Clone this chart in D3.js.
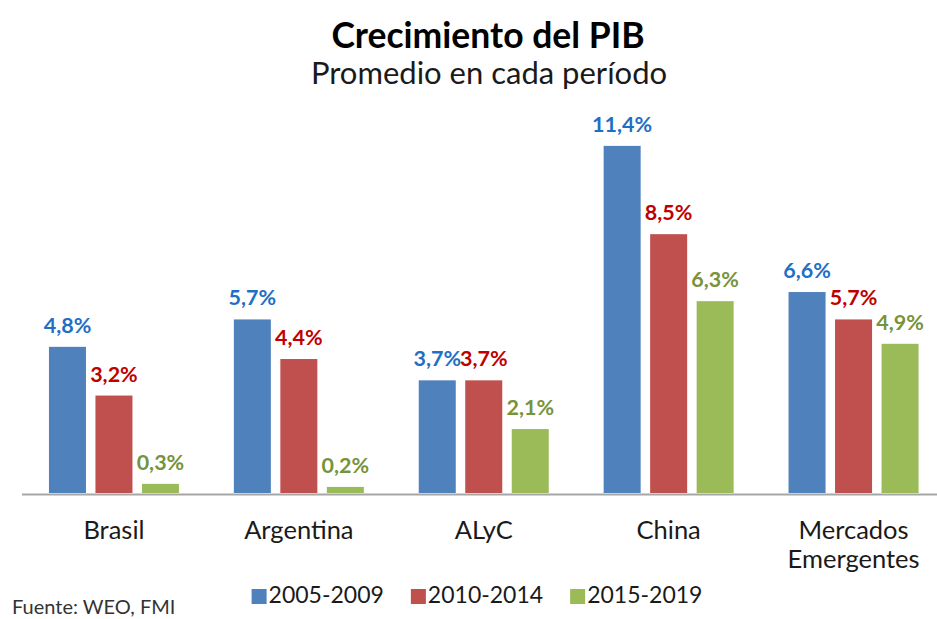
<!DOCTYPE html>
<html>
<head>
<meta charset="utf-8">
<script src="https://cdn.jsdelivr.net/npm/d3@7"></script>
<style>
  html, body { margin: 0; padding: 0; background: #ffffff; }
  svg { display: block; }
  text { font-family: Lato, "Open Sans", sans-serif; }
</style>
</head>
<body>
<svg id="chart" width="937" height="619"></svg>
<script>
// Crecimiento del PIB: promedio anual por período (%)
const categories = ["Brasil", "Argentina", "ALyC", "China", "Mercados Emergentes"];
const periods = ["2005-2009", "2010-2014", "2015-2019"];
const growth2005_2009 = [4.8, 5.7, 3.7, 11.4, 6.6];
const growth2010_2014 = [3.2, 4.4, 3.7, 8.5, 5.7];
const growth2015_2019 = [0.3, 0.2, 2.1, 6.3, 4.9];
const seriesValues = [growth2005_2009, growth2010_2014, growth2015_2019];

const barColors = ["#4F81BD", "#C0504D", "#9BBB59"];
const labelColors = ["#1F6FC5", "#C00000", "#77933C"];
const fmt = v => v.toFixed(1).replace(".", ",") + "%";

const baseY = 493;
const svg = d3.select("#chart");

// Scales
const x0 = d3.scaleBand().domain(categories).range([21.5, 946]).paddingInner(0).paddingOuter(0);
const groupOffset = (x0.bandwidth() - 130) / 2;
const x1 = d3.scaleBand().domain(periods).range([groupOffset, groupOffset + 130]).paddingInner(0.204).paddingOuter(0);
const y = d3.scaleLinear().domain([0, 12]).range([baseY, baseY - 12 * 30.45]);

// Titles
svg.append("text")
  .attr("x", 488).attr("y", 48)
  .attr("text-anchor", "middle")
  .style("font-size", "35.5px").style("font-weight", "700").style("fill", "#000")
  .text("Crecimiento del PIB");
svg.append("text")
  .attr("x", 489).attr("y", 84)
  .attr("text-anchor", "middle")
  .style("font-size", "31px").style("fill", "#1a1a1a")
  .text("Promedio en cada período");

// Bars
const rows = categories.map((c, i) => ({
  cat: c,
  vals: periods.map((p, j) => ({ period: p, j, value: seriesValues[j][i] }))
}));

const groups = svg.append("g").selectAll("g")
  .data(rows).join("g")
  .attr("transform", d => `translate(${x0(d.cat)},0)`);

groups.selectAll("rect")
  .data(d => d.vals).join("rect")
  .attr("x", d => x1(d.period))
  .attr("width", x1.bandwidth())
  .attr("y", d => y(d.value))
  .attr("height", d => y(0) - y(d.value))
  .attr("fill", d => barColors[d.j]);

groups.selectAll("text.val")
  .data(d => d.vals).join("text")
  .attr("class", "val")
  .attr("x", d => x1(d.period) + x1.bandwidth() / 2)
  .attr("y", d => y(d.value) - 14)
  .attr("text-anchor", "middle")
  .style("font-size", "21.5px").style("font-weight", "700")
  .style("fill", d => labelColors[d.j])
  .text(d => fmt(d.value));

// Category axis
const axis = svg.append("g")
  .attr("transform", `translate(0,${baseY + 1})`)
  .call(d3.axisBottom(x0).tickSize(0).tickPadding(0));
axis.select(".domain").attr("stroke", "#a6a6a6").attr("stroke-width", 2);
axis.selectAll(".tick text").each(function(d) {
  const t = d3.select(this);
  const words = d.split(" ");
  t.text(null).attr("y", 0).attr("dy", null)
    .style("font-size", "25.5px").style("fill", "#1a1a1a")
    .style("font-family", "Lato, 'Open Sans', sans-serif");
  words.forEach((w, k) => t.append("tspan").attr("x", 0).attr("y", 45 + k * 29).text(w));
});

// Legend
const legend = svg.append("g");
let lx = 0;
periods.forEach((p, j) => {
  const item = legend.append("g").attr("transform", `translate(${lx},0)`);
  item.append("rect").attr("x", 0).attr("y", 589).attr("width", 15).attr("height", 15).attr("fill", barColors[j]);
  const t = item.append("text").attr("x", 17).attr("y", 603)
    .style("font-size", "23px").style("fill", "#1a1a1a").text(p);
  lx += 17 + t.node().getComputedTextLength() + 27;
});
const legendWidth = lx - 27;
legend.attr("transform", `translate(${477 - legendWidth / 2},0)`);

// Source
svg.append("text")
  .attr("x", 12).attr("y", 614)
  .style("font-size", "20px").style("fill", "#333")
  .text("Fuente: WEO, FMI");
</script>
</body>
</html>
